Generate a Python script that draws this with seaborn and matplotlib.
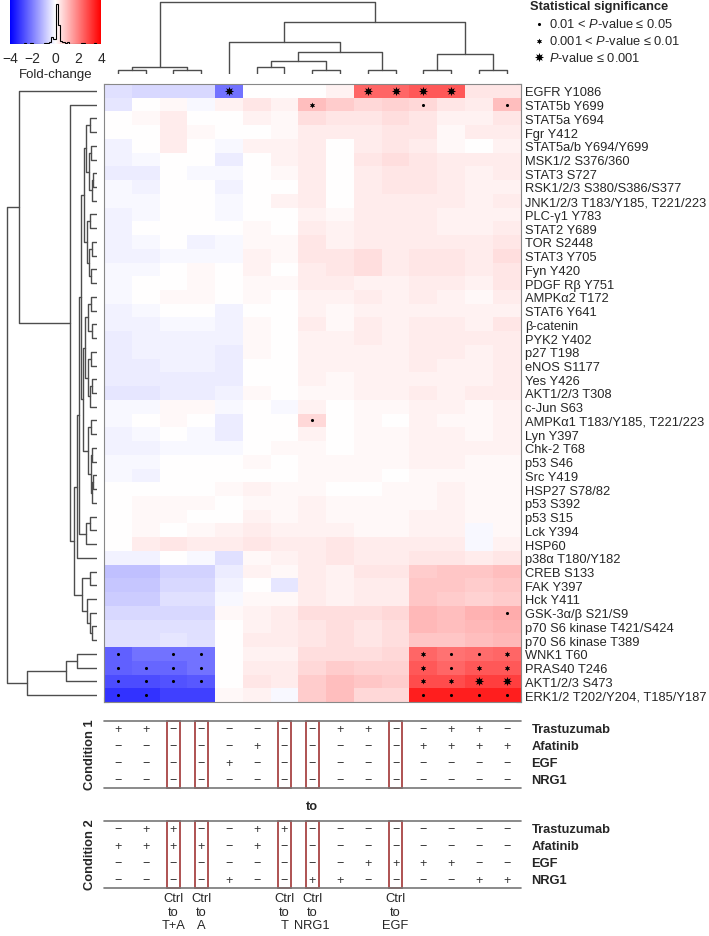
"""Clustered phospho-protein fold-change heatmap with condition tables."""

import numpy as np
import pandas as pd
import matplotlib
matplotlib.use("Agg")
import matplotlib.pyplot as plt
import seaborn as sns
from matplotlib.patches import Rectangle

# ---------------------------------------------------------------- data
proteins = [
    "EGFR Y1086", "STAT5b Y699", "STAT5a Y694", "Fgr Y412", "STAT5a/b Y694/Y699",
    "MSK1/2 S376/360", "STAT3 S727", "RSK1/2/3 S380/S386/S377",
    "JNK1/2/3 T183/Y185, T221/223", "PLC-γ1 Y783", "STAT2 Y689", "TOR S2448",
    "STAT3 Y705", "Fyn Y420", "PDGF Rβ Y751", "AMPKα2 T172", "STAT6 Y641",
    "β-catenin", "PYK2 Y402", "p27 T198", "eNOS S1177", "Yes Y426",
    "AKT1/2/3 T308", "c-Jun S63", "AMPKα1 T183/Y185, T221/223", "Lyn Y397",
    "Chk-2 T68", "p53 S46", "Src Y419", "HSP27 S78/82", "p53 S392", "p53 S15",
    "Lck Y394", "HSP60", "p38α T180/Y182", "CREB S133", "FAK Y397", "Hck Y411",
    "GSK-3α/β S21/S9", "p70 S6 kinase T421/S424", "p70 S6 kinase T389",
    "WNK1 T60", "PRAS40 T246", "AKT1/2/3 S473", "ERK1/2 T202/Y204, T185/Y187",
]

fold_change = [
    [-0.5, -0.6, -0.6, -0.6, -2.2, 0.0, 0.0, 0.0, 0.2, 2.4, 2.4, 2.6, 2.6, 0.4, 0.4],
    [-0.4, 0.0, 0.1, -0.1, 0.2, 0.4, 0.2, 1.0, 0.8, 0.6, 0.7, 0.6, 0.4, 0.3, 1.0],
    [0.0, 0.1, 0.3, 0.0, 0.0, 0.2, 0.1, 0.5, 0.4, 0.4, 0.5, 0.4, 0.2, 0.2, 0.4],
    [0.0, 0.0, 0.3, 0.1, 0.0, 0.0, 0.1, 0.3, 0.3, 0.3, 0.4, 0.4, 0.1, 0.3, 0.3],
    [-0.2, 0.0, 0.3, 0.0, -0.1, 0.2, 0.2, 0.3, 0.0, 0.3, 0.4, 0.3, 0.1, 0.0, 0.2],
    [-0.2, -0.1, 0.0, 0.0, -0.3, 0.0, 0.2, 0.3, 0.0, 0.4, 0.5, 0.4, 0.3, 0.3, 0.3],
    [-0.3, -0.3, 0.0, -0.1, -0.1, 0.0, 0.1, 0.3, 0.0, 0.3, 0.4, 0.4, 0.3, 0.2, 0.3],
    [-0.1, -0.2, 0.0, 0.0, -0.2, 0.0, 0.0, 0.3, 0.0, 0.3, 0.4, 0.4, 0.3, 0.2, 0.2],
    [-0.1, -0.1, 0.0, 0.0, -0.1, 0.0, 0.2, 0.3, 0.0, 0.3, 0.3, 0.3, 0.3, 0.2, 0.3],
    [-0.2, -0.1, 0.0, 0.0, -0.1, 0.0, 0.0, 0.2, 0.1, 0.3, 0.3, 0.3, 0.2, 0.2, 0.2],
    [-0.2, 0.0, 0.0, 0.0, 0.0, 0.1, 0.0, 0.3, 0.2, 0.3, 0.3, 0.3, 0.2, 0.2, 0.3],
    [-0.2, -0.1, 0.0, -0.2, -0.1, 0.1, 0.1, 0.4, 0.2, 0.3, 0.3, 0.3, 0.3, 0.3, 0.4],
    [-0.2, -0.2, -0.1, -0.1, -0.1, 0.2, 0.1, 0.4, 0.4, 0.5, 0.3, 0.4, 0.4, 0.3, 0.5],
    [-0.1, -0.1, 0.0, 0.1, 0.0, 0.2, 0.0, 0.3, 0.4, 0.5, 0.3, 0.4, 0.4, 0.3, 0.4],
    [-0.1, 0.0, 0.0, 0.1, 0.0, 0.1, 0.1, 0.3, 0.3, 0.2, 0.2, 0.3, 0.3, 0.2, 0.4],
    [-0.1, 0.0, 0.1, 0.1, 0.0, 0.1, 0.0, 0.2, 0.2, 0.3, 0.2, 0.3, 0.2, 0.1, 0.3],
    [-0.2, -0.1, 0.0, 0.0, -0.2, 0.0, 0.0, 0.2, 0.1, 0.2, 0.2, 0.2, 0.2, 0.2, 0.2],
    [-0.2, -0.2, -0.1, -0.1, -0.2, 0.1, 0.0, 0.3, 0.1, 0.3, 0.2, 0.3, 0.3, 0.2, 0.4],
    [-0.3, -0.2, -0.2, -0.2, -0.2, 0.1, 0.0, 0.2, 0.2, 0.3, 0.2, 0.3, 0.3, 0.3, 0.3],
    [-0.3, -0.2, -0.2, -0.2, -0.3, 0.1, 0.0, 0.2, 0.2, 0.2, 0.2, 0.3, 0.3, 0.2, 0.3],
    [-0.3, -0.3, -0.2, -0.2, -0.3, 0.0, 0.0, 0.2, 0.2, 0.2, 0.2, 0.3, 0.2, 0.2, 0.3],
    [-0.3, -0.3, -0.3, -0.3, -0.3, 0.0, 0.0, 0.2, 0.1, 0.2, 0.2, 0.2, 0.2, 0.2, 0.3],
    [-0.4, -0.4, -0.3, -0.3, -0.2, 0.1, 0.0, 0.1, 0.1, 0.2, 0.2, 0.3, 0.2, 0.3, 0.3],
    [-0.1, -0.1, 0.1, 0.1, -0.1, 0.0, -0.1, 0.2, 0.0, 0.1, 0.1, 0.2, 0.2, 0.1, 0.2],
    [-0.1, 0.0, 0.1, 0.0, -0.3, 0.0, 0.0, 0.6, 0.0, 0.1, 0.0, 0.2, 0.1, 0.1, 0.2],
    [-0.2, -0.1, 0.0, -0.1, -0.3, 0.0, 0.0, 0.2, 0.0, 0.1, 0.1, 0.2, 0.2, 0.1, 0.2],
    [-0.2, -0.2, -0.1, -0.1, -0.1, 0.0, 0.1, 0.1, 0.0, 0.1, 0.1, 0.2, 0.2, 0.2, 0.2],
    [-0.1, -0.1, 0.0, 0.0, 0.0, 0.1, 0.0, 0.1, 0.1, 0.1, 0.1, 0.2, 0.2, 0.1, 0.1],
    [-0.1, -0.2, 0.0, 0.0, 0.0, 0.0, 0.0, 0.1, 0.1, 0.1, 0.0, 0.1, 0.1, 0.1, 0.1],
    [0.0, 0.0, 0.0, 0.0, 0.1, 0.2, 0.1, 0.1, 0.0, 0.0, 0.1, 0.1, 0.2, 0.1, 0.1],
    [0.0, 0.1, 0.1, 0.1, 0.0, 0.1, 0.1, 0.2, 0.1, 0.1, 0.1, 0.1, 0.2, 0.1, 0.1],
    [0.0, 0.1, 0.1, 0.0, 0.0, 0.2, 0.1, 0.2, 0.1, 0.1, 0.1, 0.2, 0.2, 0.1, 0.1],
    [0.0, 0.1, 0.0, 0.1, 0.2, 0.3, 0.2, 0.2, 0.2, 0.1, 0.1, 0.2, 0.2, -0.1, 0.1],
    [0.0, 0.3, 0.4, 0.3, 0.3, 0.4, 0.3, 0.3, 0.4, 0.3, 0.3, 0.3, 0.3, -0.1, 0.2],
    [-0.2, -0.2, 0.0, -0.1, -0.5, 0.1, 0.2, 0.3, 0.4, 0.3, 0.3, 0.4, 0.4, 0.3, 0.4],
    [-1.0, -1.0, -0.7, -0.7, -0.3, 0.2, 0.1, 0.3, 0.2, 0.4, 0.4, 0.8, 0.9, 0.9, 1.0],
    [-0.9, -0.9, -0.6, -0.6, -0.2, 0.0, -0.4, 0.3, 0.2, 0.3, 0.3, 0.9, 0.9, 0.8, 0.9],
    [-0.8, -0.8, -0.5, -0.5, -0.1, 0.1, 0.1, 0.3, 0.2, 0.3, 0.3, 0.9, 0.8, 0.7, 0.8],
    [-0.6, -0.6, -0.6, -0.6, 0.1, 0.2, 0.3, 0.5, 0.5, 0.5, 0.6, 1.1, 1.0, 1.2, 1.3],
    [-0.5, -0.5, -0.5, -0.5, 0.0, 0.2, 0.3, 0.4, 0.5, 0.4, 0.5, 1.1, 1.0, 1.1, 1.2],
    [-0.5, -0.5, -0.4, -0.5, 0.0, 0.3, 0.3, 0.4, 0.5, 0.4, 0.5, 0.9, 0.9, 1.0, 1.1],
    [-2.5, -2.2, -2.2, -2.2, 0.0, 0.2, 0.2, 0.5, 0.5, 0.5, 0.6, 2.4, 2.2, 2.3, 2.4],
    [-2.5, -2.4, -2.4, -2.2, 0.0, 0.3, 0.3, 0.6, 0.8, 0.7, 0.7, 2.6, 2.4, 2.6, 2.6],
    [-2.8, -2.8, -2.7, -2.6, 0.0, 0.4, 0.3, 0.8, 1.0, 0.9, 0.8, 2.8, 2.8, 3.0, 3.0],
    [-3.2, -3.2, -3.0, -3.0, 0.1, 0.2, -0.1, 0.8, 1.0, 0.6, 0.6, 3.5, 3.5, 3.5, 3.5],
]

# (row, column, level) level 1: P<=0.05, 2: P<=0.01, 3: P<=0.001
significance = [
    (0, 4, 3), (0, 9, 3), (0, 10, 3), (0, 11, 3), (0, 12, 3),
    (1, 7, 2), (1, 11, 1), (1, 14, 1),
    (24, 7, 1), (38, 14, 1),
    (41, 0, 1), (41, 2, 1), (41, 3, 1), (41, 11, 2), (41, 12, 1), (41, 13, 1), (41, 14, 2),
    (42, 0, 1), (42, 1, 1), (42, 2, 1), (42, 3, 1), (42, 11, 2), (42, 12, 1), (42, 13, 2), (42, 14, 2),
    (43, 0, 1), (43, 1, 1), (43, 2, 1), (43, 3, 1), (43, 11, 2), (43, 12, 2), (43, 13, 3), (43, 14, 3),
    (44, 0, 1), (44, 1, 1), (44, 11, 1), (44, 12, 1), (44, 13, 1), (44, 14, 1),
]
sig_labels = ["0.01 < $\\mathit{P}$-value ≤ 0.05",
              "0.001 < $\\mathit{P}$-value ≤ 0.01",
              "$\\mathit{P}$-value ≤ 0.001"]

treatments = ["Trastuzumab", "Afatinib", "EGF", "NRG1"]
condition1 = ["++------++--++-", "-----+-----++++", "----+----------", "---------------"]
condition2 = ["-++--++--------", "++++-+---------", "---------++++--", "----+--++----++"]
ctrl_columns = [2, 3, 6, 7, 10]
ctrl_targets = ["T+A", "A", "T", "NRG1", "EGF"]

# dendrograms as (left, right, height); ints are leaf indices
g1 = ((2, 3, 0.08), ((4, 5, 0.07), ((6, 7, 0.04), 8, 0.06), 0.09), 0.12)
g2 = ((9, 10, 0.08), ((11, 12, 0.05), (13, 14, 0.07), 0.09), 0.11)
g3 = ((15, 16, 0.07), (17, 18, 0.06), 0.10)
g4 = ((19, 20, 0.07), ((21, 22, 0.05), 23, 0.08), 0.10)
g5 = ((24, 25, 0.07), ((26, 27, 0.06), ((28, 29, 0.04), 30, 0.05), 0.07), 0.10)
g6 = ((35, 36, 0.08), (37, (38, (39, 40, 0.05), 0.08), 0.11), 0.17)
core = (((g1, g2, 0.14), ((g3, g4, 0.13), g5, 0.16), 0.18), ((31, 32, 0.08), 33, 0.12), 0.20)
row_tree = ((0, (1, ((core, 34, 0.22), g6, 0.26), 0.30), 0.87),
            (((41, 42, 0.22), 43, 0.34), 44, 0.78), 1.0)
col_tree = (((0, 1, 0.06), (2, 3, 0.06), 0.10),
            ((4, (((5, 6, 0.10), (7, 8, 0.06), 0.18), (9, 10, 0.06), 0.31), 0.44),
             ((11, 12, 0.06), (13, 14, 0.06), 0.28), 0.72), 1.0)

# ---------------------------------------------------------------- style
sns.set_style("white")
plt.rcParams["font.family"] = ["Liberation Sans", "DejaVu Sans"]
plt.rcParams["mathtext.fontset"] = "custom"
plt.rcParams["mathtext.rm"] = "Liberation Sans"
plt.rcParams["mathtext.it"] = "Liberation Sans:italic"

W, H = 709, 937
fig = plt.figure(figsize=(W / 100, H / 100), dpi=100)


def box(x0, y0, x1, y1):
    """Pixel box (top-left origin) to figure fraction rect."""
    return [x0 / W, 1 - y1 / H, (x1 - x0) / W, (y1 - y0) / H]


def draw_tree(ax, node, side):
    if isinstance(node, int):
        return node + 0.5, 0.0
    left, right, h = node
    p1, h1 = draw_tree(ax, left, side)
    p2, h2 = draw_tree(ax, right, side)
    if side == "top":
        ax.plot([p1, p1, p2, p2], [h1, h, h, h2], color="#4d4d4d", lw=1.0)
    else:
        ax.plot([h1, h, h, h2], [p1, p1, p2, p2], color="#4d4d4d", lw=1.0)
    return (p1 + p2) / 2, h


marker_styles = {1: ("o", 5), 2: ((6, 1, 0), 18), 3: ((8, 1, 0), 44)}

# ---------------------------------------------------------------- heatmap
n_rows, n_cols = len(proteins), len(fold_change[0])
df = pd.DataFrame(fold_change, index=proteins)
ax_hm = fig.add_axes(box(104, 85, 520.5, 703))
sns.heatmap(df, cmap="bwr", vmin=-4, vmax=4, cbar=False, ax=ax_hm,
            xticklabels=False, yticklabels=True)
ax_hm.set_ylabel("")
ax_hm.yaxis.tick_right()
ax_hm.set_yticks(np.arange(n_rows) + 0.5)
ax_hm.set_yticklabels(proteins, rotation=0, fontsize=9.3)
ax_hm.tick_params(axis="y", which="major", length=0, pad=3,
                  left=False, right=False, labelleft=False, labelright=True)
ax_hm.set_xticks(np.arange(n_cols + 1), minor=True)
ax_hm.set_yticks(np.arange(n_rows + 1), minor=True)
ax_hm.tick_params(which="minor", direction="in", length=3.5, width=0.8, color="#777777",
                  top=True, bottom=True, left=True, right=True)
for s in ax_hm.spines.values():
    s.set_visible(True)
    s.set_color("#888888")
    s.set_linewidth(0.8)

for r, c, lvl in significance:
    mk, sz = marker_styles[lvl]
    ax_hm.scatter(c + 0.5, r + 0.5, marker=mk, s=sz, color="black", linewidths=0, zorder=3)
ax_hm.set_xlim(0, n_cols)
ax_hm.set_ylim(n_rows, 0)

# ---------------------------------------------------------------- dendrograms
ax_rd = fig.add_axes(box(5, 85, 97, 703))
draw_tree(ax_rd, row_tree, "left")
ax_rd.set_xlim(1.02, 0)
ax_rd.set_ylim(n_rows, 0)
ax_rd.axis("off")

ax_cd = fig.add_axes(box(104, 2, 520.5, 75))
draw_tree(ax_cd, col_tree, "top")
ax_cd.set_xlim(0, n_cols)
ax_cd.set_ylim(0, 1.015)
ax_cd.axis("off")

# ---------------------------------------------------------------- colour key
ax_cb = fig.add_axes(box(10, 1, 101, 45))
ax_cb.imshow(np.linspace(-4, 4, 256)[None, :], cmap="bwr", vmin=-4, vmax=4,
             extent=(-4, 4, 0, 1), aspect="auto")
counts, edges = np.histogram(np.array(fold_change).ravel(), bins=np.linspace(-4, 4, 41))
ax_cb.stairs(counts / counts.max() * 0.92, edges, color="black", lw=0.8)
ax_cb.set_xlim(-4, 4)
ax_cb.set_ylim(0, 1)
ax_cb.set_yticks([])
ax_cb.set_xticks([-4, -2, 0, 2, 4])
ax_cb.set_xticklabels(["−4", "−2", "0", "2", "4"])
ax_cb.tick_params(axis="x", length=0, labelsize=10, pad=5)
ax_cb.set_xlabel("Fold-change", fontsize=9.5, labelpad=2)
for s in ax_cb.spines.values():
    s.set_visible(False)

# ---------------------------------------------------------------- condition tables
def draw_table(rect, states):
    ax = fig.add_axes(rect)
    ax.set_xlim(0, n_cols)
    ax.set_ylim(len(states), 0)
    ax.axis("off")
    ax.plot([0, n_cols], [0, 0], color="#777777", lw=1.2, clip_on=False)
    ax.plot([0, n_cols], [len(states)] * 2, color="#777777", lw=1.2, clip_on=False)
    for i, row in enumerate(states):
        for j, ch in enumerate(row):
            ax.text(j + 0.5, i + 0.5, "+" if ch == "+" else "−", ha="center",
                    va="center", fontsize=9, color="#333333")
        ax.text(n_cols + 0.4, i + 0.5, treatments[i], ha="left", va="center",
                fontsize=9.3, fontweight="bold")
    for j in ctrl_columns:
        ax.add_patch(Rectangle((j + 0.26, 0.02), 0.48, len(states) - 0.04, fill=False,
                               edgecolor="#a84444", lw=1.3, clip_on=False))
    return ax


draw_table(box(104, 722, 520.5, 789), condition1)
ax_c2 = draw_table(box(104, 822, 520.5, 889), condition2)
for j, lab in zip(ctrl_columns, ctrl_targets):
    ax_c2.text(j + 0.5, 4.25, "Ctrl\nto\n" + lab, ha="center", va="top",
               fontsize=9.3, linespacing=1.15)

# ---------------------------------------------------------------- overlay text
ax_ov = fig.add_axes([0, 0, 1, 1])
ax_ov.set_xlim(0, W)
ax_ov.set_ylim(H, 0)
ax_ov.axis("off")
ax_ov.patch.set_visible(False)
ax_ov.text(90, 755, "Condition 1", rotation=90, ha="center", va="center",
           fontsize=9.3, fontweight="bold")
ax_ov.text(90, 855, "Condition 2", rotation=90, ha="center", va="center",
           fontsize=9.3, fontweight="bold")
ax_ov.text(312, 807, "to", ha="center", va="center", fontsize=9.3, fontweight="bold")

ax_ov.text(530, 7, "Statistical significance", ha="left", va="center",
           fontsize=9.3, fontweight="bold")
for k, lab in enumerate(sig_labels):
    mk, sz = marker_styles[k + 1]
    y = 25 + k * 16.5
    ax_ov.scatter(539, y, marker=mk, s=sz, color="black", linewidths=0)
    ax_ov.text(549, y, lab, ha="left", va="center", fontsize=9.3)

fig.savefig("out.png", dpi=100)
plt.close(fig)
